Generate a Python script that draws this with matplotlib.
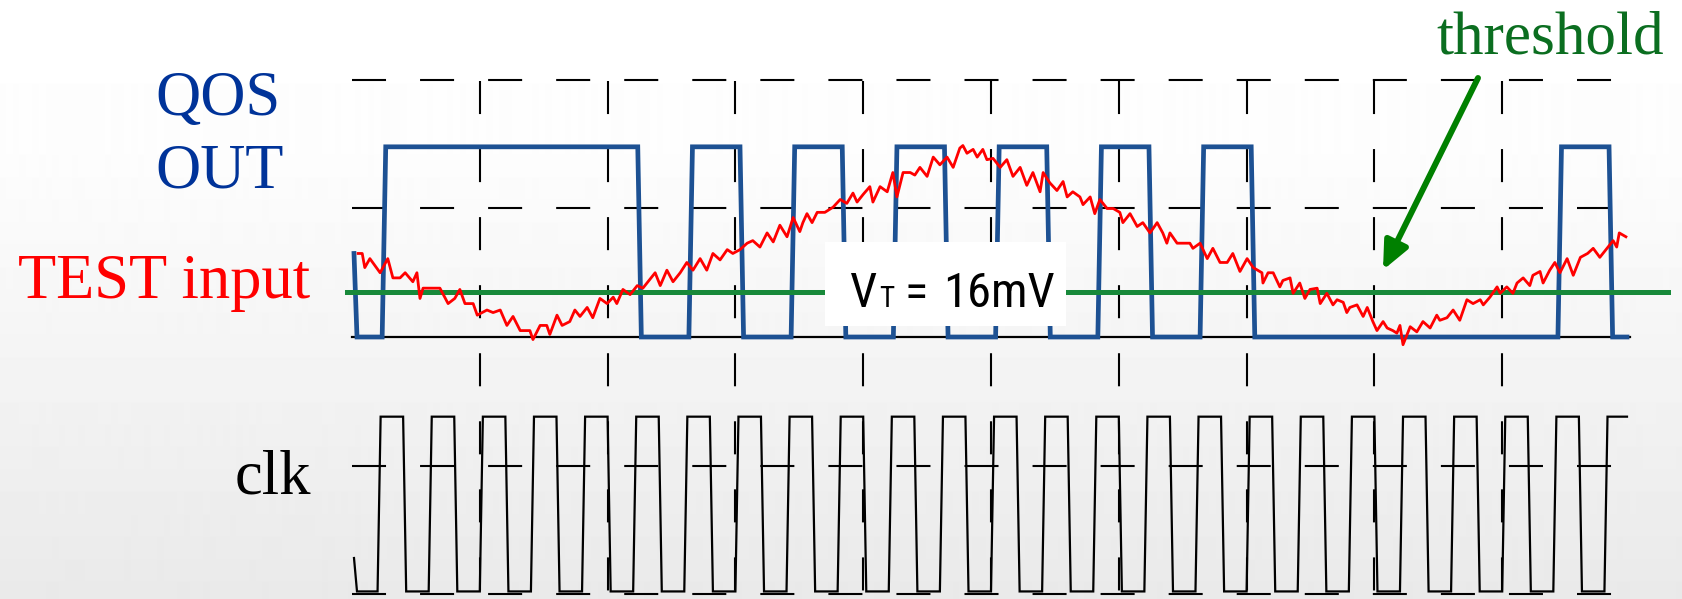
import numpy as np
import matplotlib.pyplot as plt
from matplotlib import font_manager
from matplotlib.patches import Rectangle

plt.rcParams['lines.scale_dashes'] = False

# time axis in clock cycles, levels in screen divisions (0 = QOS low rail)
qos_start = 0.65
qos_high = 1.48
qos_bits = [1, 1, 1, 1, 1, 0, 1, 0, 1, 0, 1, 0, 1, 0, 1, 0, 1, 0, 0, 0, 0, 0, 0, 1, 0]

clk_start = -1.72
clk_high = -0.62
clk_low = -1.98
clk_halves = '01010101010101010101010101010101010101010101010101'

test_t = [0.12, 0.20, 0.25, 0.35, 0.55, 0.70, 0.80, 0.94, 1.04, 1.19, 1.27, 1.33, 1.39, 1.58,
          1.72, 1.88, 2.01, 2.11, 2.21, 2.37, 2.45, 2.64, 2.76, 2.90, 3.03, 3.15, 3.29, 3.48,
          3.54, 3.68, 3.81, 3.87, 4.01, 4.11, 4.26, 4.36, 4.46, 4.60, 4.71, 4.85, 4.99, 5.11,
          5.18, 5.30, 5.44, 5.58, 5.69, 5.93, 6.03, 6.16, 6.28, 6.42, 6.55, 6.67, 6.81, 6.94,
          7.06, 7.20, 7.34, 7.45, 7.59, 7.73, 7.84, 7.98, 8.12, 8.24, 8.37, 8.51, 8.63, 8.76,
          8.82, 8.90, 9.00, 9.10, 9.25, 9.41, 9.55, 9.68, 9.80, 9.88, 10.00, 10.13, 10.19, 10.33,
          10.47, 10.58, 10.66, 10.78, 10.92, 11.01, 11.11, 11.25, 11.37, 11.50, 11.64, 11.76,
          11.89, 11.95, 12.03, 12.15, 12.23, 12.34, 12.42, 12.54, 12.68, 12.81, 12.93, 13.07,
          13.20, 13.32, 13.46, 13.52, 13.65, 13.79, 13.91, 13.99, 14.10, 14.24, 14.30, 14.44,
          14.53, 14.63, 14.77, 14.89, 15.02, 15.08, 15.22, 15.36, 15.47, 15.61, 15.75, 15.86,
          15.94, 16.00, 16.14, 16.26, 16.39, 16.45, 16.59, 16.73, 16.84, 16.98, 17.12, 17.23,
          17.37, 17.51, 17.63, 17.80, 17.82, 17.92, 18.02, 18.15, 18.21, 18.35, 18.41, 18.54,
          18.64, 18.74, 18.88, 18.94, 19.07, 19.19, 19.27, 19.39, 19.46, 19.52, 19.66, 19.78,
          19.86, 19.97, 20.05, 20.17, 20.25, 20.36, 20.44, 20.50, 20.56, 20.64, 20.70, 20.83,
          20.95, 21.09, 21.22, 21.28, 21.42, 21.54, 21.67, 21.81, 21.93, 22.07, 22.13, 22.26,
          22.40, 22.46, 22.59, 22.71, 22.79, 22.91, 23.04, 23.10, 23.24, 23.30, 23.43, 23.53,
          23.63, 23.77, 23.89, 24.03, 24.17, 24.28, 24.41, 24.55, 24.67, 24.74, 24.79, 24.92]
test_v = [0.65, 0.65, 0.54, 0.61, 0.50, 0.61, 0.46, 0.46, 0.50, 0.43, 0.50, 0.30, 0.38, 0.38,
          0.38, 0.26, 0.30, 0.37, 0.26, 0.26, 0.17, 0.21, 0.19, 0.21, 0.09, 0.16, 0.05, 0.05,
          -0.02, 0.09, 0.09, 0.02, 0.17, 0.09, 0.12, 0.21, 0.16, 0.23, 0.15, 0.30, 0.26, 0.31,
          0.26, 0.37, 0.33, 0.40, 0.38, 0.50, 0.40, 0.52, 0.43, 0.50, 0.58, 0.52, 0.61, 0.52,
          0.65, 0.60, 0.68, 0.65, 0.68, 0.73, 0.75, 0.70, 0.81, 0.74, 0.87, 0.78, 0.93, 0.82,
          0.89, 0.96, 0.89, 0.97, 0.97, 1.01, 1.07, 1.04, 1.12, 1.05, 1.11, 1.17, 1.05, 1.17,
          1.13, 1.28, 1.09, 1.28, 1.28, 1.26, 1.32, 1.25, 1.40, 1.34, 1.40, 1.32,
          1.47, 1.49, 1.43, 1.46, 1.40, 1.46, 1.38, 1.39, 1.32, 1.38, 1.25, 1.32,
          1.18, 1.28, 1.13, 1.28, 1.20, 1.14, 1.21, 1.09, 1.13, 1.09, 1.03, 1.09,
          0.96, 1.07, 1.00, 1.00, 0.97, 0.89, 0.96, 0.86, 0.89, 0.81, 0.89, 0.81,
          0.73, 0.81, 0.73, 0.73, 0.73, 0.69, 0.73, 0.61, 0.69, 0.58, 0.58, 0.65,
          0.51, 0.61, 0.54, 0.50, 0.42, 0.50, 0.50, 0.39, 0.44, 0.46, 0.34, 0.42,
          0.30, 0.37, 0.38, 0.26, 0.34, 0.25, 0.29, 0.27, 0.19, 0.23, 0.25, 0.16,
          0.23, 0.12, 0.05, 0.12, 0.07, 0.05, 0.03, 0.09, -0.06, 0.02, 0.08, 0.04,
          0.12, 0.07, 0.17, 0.13, 0.15, 0.21, 0.13, 0.29, 0.26, 0.29, 0.25, 0.31,
          0.39, 0.34, 0.39, 0.34, 0.42, 0.46, 0.40, 0.48, 0.51, 0.42, 0.52, 0.58,
          0.50, 0.61, 0.48, 0.62, 0.65, 0.69, 0.62, 0.69, 0.75, 0.70, 0.81, 0.78]

threshold = 0.35
grid_levels = [2, 1, -1, -2]
grid_times = [2.5, 5, 7.5, 10, 12.5, 15, 17.5, 20, 22.5]
t_end = 25


# pixel -> data helpers (only used for placing labels)
def tx(px):
    return (px - 352) / 51.12


def vy(py):
    return (337 - py) / 128.5


# narrow gothic-like font for the V_T label, whatever is installed
installed = {f.name for f in font_manager.fontManager.ttflist}
narrow = [n for n in ['Noto Sans Mono CJK JP', 'Liberation Sans Narrow', 'DejaVu Sans Condensed',
                      'Roboto Condensed', 'Liberation Mono'] if n in installed]
if narrow:
    vfont, vsize, vsub = narrow[0], 35, 21
else:
    vfont, vsize, vsub = 'Noto Sans CJK JP', 30, 18

fig = plt.figure(figsize=(16.83, 5.99), dpi=100)
ax = fig.add_axes([0, 0, 1, 1])
ax.set_xlim(tx(0), tx(1683))
ax.set_ylim(vy(599), vy(0))
ax.axis('off')

# background
rows = np.arange(599)
shade = np.interp(rows, [0, 150, 599], [1.0, 0.993, 0.915])
ax.imshow(shade[:, None], cmap='gray', vmin=0, vmax=1, aspect='auto',
          extent=[tx(0), tx(1683), vy(599), vy(0)], zorder=0)

# scope grid
for lv in grid_levels:
    ax.plot([0, t_end], [lv, lv], color='black', lw=1.5,
            linestyle=(0, (24.5, 24.5)), zorder=1)
for gt in grid_times:
    ax.plot([gt, gt], [vy(81), vy(610)], color='black', lw=1.5,
            linestyle=(0, (23.8, 25.2)), zorder=1)
ax.plot([0, t_end], [0, 0], color='black', lw=1.6, zorder=1)

# QOS OUT
qt = [tx(354), tx(357)]
qv = [qos_start, 0.0]
prev = 0
for k, b in enumerate(qos_bits):
    if b != prev:
        e = 0.5 + k + 0.09
        qt += [e, e + 0.07]
        qv += [prev * qos_high, b * qos_high]
        prev = b
qt.append(tx(1627))
qv.append(prev * qos_high)
ax.plot(qt, qv, color='#1d5193', lw=3.4, solid_joinstyle='miter', zorder=2)

# clk
ct = [tx(354), tx(357)]
cv = [clk_start, clk_low]
prev = '0'
for j, c in enumerate(clk_halves):
    if c != prev:
        e = 0.5 * j
        ct += [e, e + 0.06]
        cv += [clk_high if prev == '1' else clk_low, clk_high if c == '1' else clk_low]
        prev = c
ct.append(tx(1627))
cv.append(clk_high if prev == '1' else clk_low)
ax.plot(ct, cv, color='black', lw=1.6, solid_joinstyle='miter', zorder=2)

# threshold and test input
ax.plot([tx(347), tx(1668)], [threshold, threshold], color='#18893a', lw=3.6, zorder=3)
ax.plot(test_t, test_v, color='#ff0000', lw=2.0, zorder=4)

# V_T box
ax.add_patch(Rectangle((tx(825), vy(326)), tx(1066) - tx(825), vy(242) - vy(326),
                       facecolor='white', edgecolor='none', zorder=5))
ax.text(tx(850), vy(307), 'V', family=vfont, fontsize=vsize, ha='left', va='baseline', zorder=6)
ax.text(tx(879), vy(307), 'T', family=vfont, fontsize=vsub, ha='left', va='baseline', zorder=6)
ax.text(tx(916), vy(307), '=', family=vfont, fontsize=vsize, ha='center', va='baseline', zorder=6)
ax.text(tx(1055), vy(307), '16mV', family=vfont, fontsize=vsize, ha='right', va='baseline', zorder=6)

# labels
serif = 'Liberation Serif'
ax.text(tx(155), vy(115), 'QOS', family=serif, fontsize=45, color='#003399', ha='left', va='baseline')
ax.text(tx(155), vy(187), 'OUT', family=serif, fontsize=45, color='#003399', ha='left', va='baseline')
ax.text(tx(310), vy(298), 'TEST input', family=serif, fontsize=45, color='#ff0000', ha='right', va='baseline')
ax.text(tx(311), vy(493), 'clk', family=serif, fontsize=45, color='black', ha='right', va='baseline')
ax.text(tx(1436), vy(53), 'threshold', family=serif, fontsize=44, color='#0b6e20', ha='left', va='baseline')

ax.annotate('', xy=(tx(1383), vy(270)), xytext=(tx(1478), vy(78)),
            arrowprops=dict(arrowstyle='-|>,head_length=0.6,head_width=0.27', lw=4.3,
                            color='#008000', mutation_scale=28, shrinkA=0, shrinkB=0),
            zorder=6)

fig.savefig('out.png', dpi=100)
